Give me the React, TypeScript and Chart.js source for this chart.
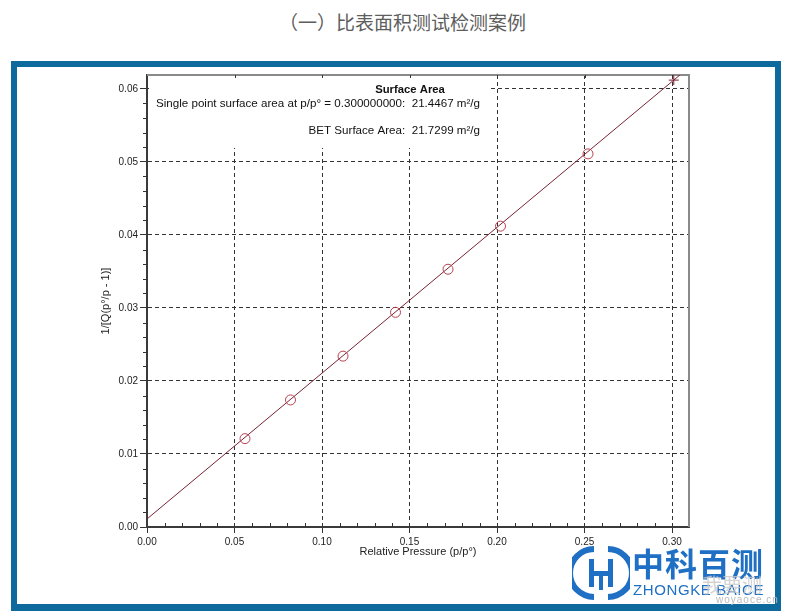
import React, { useEffect, useRef } from "react";
import { Chart, registerables } from "chart.js";

Chart.register(...registerables);

// ---- data ----
const pointX = [0.056, 0.082, 0.112, 0.142, 0.172, 0.202, 0.252];
const pointY = [0.0121, 0.0174, 0.0234, 0.0294, 0.0353, 0.0412, 0.0511];
const singleX = [0.301];
const singleY = [0.0612];
const fitX = [0, 0.32];
const fitY = [0.0011, 0.065];
const xTicks = [0, 0.05, 0.1, 0.15, 0.2, 0.25, 0.3];
const yTicks = [0, 0.01, 0.02, 0.03, 0.04, 0.05, 0.06];
const xMinor = [0.01, 0.02, 0.03, 0.04, 0.06, 0.07, 0.08, 0.09, 0.11, 0.12, 0.13, 0.14, 0.16, 0.17, 0.18, 0.19, 0.21, 0.22, 0.23, 0.24, 0.26, 0.27, 0.28, 0.29];
const yMinor = [0.002, 0.004, 0.006, 0.008, 0.012, 0.014, 0.016, 0.018, 0.022, 0.024, 0.026, 0.028, 0.032, 0.034, 0.036, 0.038, 0.042, 0.044, 0.046, 0.048, 0.052, 0.054, 0.056, 0.058];
const X_MIN = 0, X_MAX = 0.3097, Y_MIN = 0, Y_MAX = 0.0619;

const titleText = "（一）比表面积测试检测案例";
const boxTitle = "Surface Area";
const boxLine1 = "Single point surface area at p/p° = 0.300000000:  21.4467 m²/g";
const boxLine2 = "BET Surface Area:  21.7299 m²/g";
const xTitle = "Relative Pressure (p/p°)";
const yTitle = "1/[Q(p°/p - 1)]";

const FONT = "'Liberation Sans', Arial, sans-serif";

const decor = {
  id: "decor",
  beforeDatasetsDraw(chart: any) {
    const { ctx, chartArea: a, scales } = chart;
    const xs = scales.x, ys = scales.y;
    ctx.save();
    // white text box over the grid
    ctx.fillStyle = "#ffffff";
    ctx.fillRect(a.left + 2, a.top, 342, 73);
    // top & right frame
    ctx.strokeStyle = "#8a8a8a";
    ctx.lineWidth = 2;
    ctx.beginPath();
    ctx.moveTo(a.left, a.top);
    ctx.lineTo(a.right, a.top);
    ctx.lineTo(a.right, a.bottom);
    ctx.stroke();
    // minor ticks
    ctx.strokeStyle = "#333";
    ctx.lineWidth = 1;
    ctx.beginPath();
    xMinor.forEach((v) => {
      const px = Math.round(xs.getPixelForValue(v)) + 0.5;
      ctx.moveTo(px, a.bottom);
      ctx.lineTo(px, a.bottom - 4);
    });
    yMinor.forEach((v) => {
      const py = Math.round(ys.getPixelForValue(v)) + 0.5;
      ctx.moveTo(a.left - 4, py);
      ctx.lineTo(a.left, py);
    });
    xTicks.forEach((v) => {
      if (v === 0) return;
      const px = Math.round(xs.getPixelForValue(v)) + 0.5;
      ctx.moveTo(px, a.top);
      ctx.lineTo(px, a.top + 3);
    });
    ctx.stroke();
    ctx.restore();
  },
  afterDatasetsDraw(chart: any) {
    const { ctx, chartArea: a } = chart;
    ctx.save();
    ctx.fillStyle = "#111";
    ctx.textBaseline = "middle";
    ctx.font = `bold 11.3px ${FONT}`;
    ctx.textAlign = "center";
    ctx.fillText(boxTitle, a.left + 263, a.top + 15);
    ctx.font = `11.6px ${FONT}`;
    ctx.textAlign = "right";
    ctx.fillText(boxLine1, a.left + 333, a.top + 29);
    ctx.fillText(boxLine2, a.left + 333, a.top + 56);
    ctx.restore();
  },
};

export default function App() {
  const ref = useRef<HTMLCanvasElement>(null);
  useEffect(() => {
    if (!ref.current) return;
    const tickFont = { family: FONT, size: 10 };
    const chart = new Chart(ref.current, {
      type: "scatter",
      data: {
        datasets: [
          {
            data: pointX.map((x, i) => ({ x, y: pointY[i] })),
            pointStyle: "circle",
            pointRadius: 5,
            pointBorderWidth: 1,
            pointBorderColor: "#b8414f",
            pointBackgroundColor: "rgba(0,0,0,0)",
            showLine: false,
          },
          {
            data: singleX.map((x, i) => ({ x, y: singleY[i] })),
            pointStyle: "cross",
            pointRadius: 5,
            pointBorderWidth: 1,
            pointBorderColor: "#7a2030",
            showLine: false,
          },
          {
            data: fitX.map((x, i) => ({ x, y: fitY[i] })),
            showLine: true,
            borderColor: "#7a2232",
            borderWidth: 1,
            pointRadius: 0,
          },
        ],
      } as any,
      options: {
        responsive: false,
        animation: false,
        devicePixelRatio: 1,
        layout: { padding: { left: 87, right: 108, top: 75, bottom: 57 } },
        plugins: { legend: { display: false }, tooltip: { enabled: false } },
        scales: {
          x: {
            type: "linear",
            min: X_MIN,
            max: X_MAX,
            afterBuildTicks: (s: any) => {
              s.ticks = xTicks.map((v) => ({ value: v }));
            },
            afterFit: (s: any) => {
              s.height = 32;
            },
            ticks: {
              font: tickFont,
              color: "#222",
              padding: 3,
              maxRotation: 0,
              autoSkip: false,
              callback: (v: any) => Number(v).toFixed(2),
            },
            grid: {
              color: (c: any) => (c.tick && c.tick.value === 0 ? "rgba(0,0,0,0)" : "#333"),
              lineWidth: 1,
              tickLength: 6,
              tickColor: "#333",
              tickBorderDash: [],
            },
            border: { display: true, color: "#3a3a3a", width: 2, dash: [4, 3] },
            title: {
              display: true,
              text: xTitle,
              font: { family: FONT, size: 11 },
              color: "#222",
              padding: { top: 0, bottom: 0 },
            },
          },
          y: {
            type: "linear",
            min: Y_MIN,
            max: Y_MAX,
            afterBuildTicks: (s: any) => {
              s.ticks = yTicks.map((v) => ({ value: v }));
            },
            afterFit: (s: any) => {
              s.width = 60;
            },
            ticks: {
              font: tickFont,
              color: "#222",
              padding: 2,
              autoSkip: false,
              callback: (v: any) => Number(v).toFixed(2),
            },
            grid: {
              color: (c: any) => (c.tick && c.tick.value === 0 ? "rgba(0,0,0,0)" : "#333"),
              lineWidth: 1,
              tickLength: 7,
              tickColor: "#333",
              tickBorderDash: [],
            },
            border: { display: true, color: "#3a3a3a", width: 2, dash: [4, 3] },
            title: {
              display: true,
              text: yTitle,
              font: { family: FONT, size: 11 },
              color: "#222",
              padding: { top: 12, bottom: 0 },
            },
          },
        },
      },
      plugins: [decor],
    } as any);
    return () => chart.destroy();
  }, []);

  return (
    <div style={{ position: "absolute", left: 0, top: 0, width: 797, height: 616, background: "#fff", overflow: "hidden" }}>
      <div
        style={{
          position: "absolute",
          left: 0,
          top: 8,
          width: 805,
          textAlign: "center",
          fontFamily: "'Noto Sans CJK SC', sans-serif",
          fontSize: 19,
          lineHeight: "28px",
          color: "#5d5d5d",
        }}
      >
        {titleText}
      </div>
      <div
        style={{
          position: "absolute",
          left: 11,
          top: 61,
          width: 770,
          height: 550,
          boxSizing: "border-box",
          border: "6px solid #0e6a9d",
          borderBottomWidth: 7,
        }}
      />
      <canvas ref={ref} width={797} height={616} style={{ position: "absolute", left: 0, top: 0 }} />
      {/* logo */}
      <svg style={{ position: "absolute", left: 572, top: 544 }} width={58} height={58} viewBox="0 0 58 58">
        <path d="M 22 5 A 24 24 0 0 0 22 53" fill="none" stroke="#1f6fc4" strokeWidth={6} />
        <path d="M 36 5 A 24 24 0 0 1 36 53" fill="none" stroke="#1f6fc4" strokeWidth={6} />
        <rect x={17} y={15} width={5} height={28} fill="#1f6fc4" />
        <rect x={36} y={15} width={5} height={28} fill="#1f6fc4" />
        <rect x={22} y={27} width={14} height={5} fill="#1f6fc4" />
        <rect x={27} y={32} width={4} height={14} fill="#1f6fc4" />
      </svg>
      <div
        style={{
          position: "absolute",
          left: 632,
          top: 540,
          fontFamily: "'Noto Sans CJK SC', sans-serif",
          fontWeight: 700,
          fontSize: 32,
          lineHeight: "44px",
          letterSpacing: 1,
          color: "#1f6fc4",
          whiteSpace: "nowrap",
        }}
      >
        中科百测
      </div>
      <div
        style={{
          position: "absolute",
          left: 633,
          top: 581,
          fontFamily: "'Liberation Sans', Arial, sans-serif",
          fontSize: 15,
          lineHeight: "17px",
          letterSpacing: 0.6,
          color: "#1f6fc4",
          whiteSpace: "nowrap",
        }}
      >
        ZHONGKE BAICE
      </div>
      <div
        style={{
          position: "absolute",
          left: 702,
          top: 574,
          fontFamily: "'Noto Sans CJK SC', sans-serif",
          fontSize: 20,
          lineHeight: "22px",
          color: "rgba(200,200,200,0.8)",
          whiteSpace: "nowrap",
        }}
      >
        我要测
      </div>
      <div
        style={{
          position: "absolute",
          left: 716,
          top: 594,
          fontFamily: "'Liberation Sans', Arial, sans-serif",
          fontSize: 10,
          lineHeight: "11px",
          letterSpacing: 1,
          color: "#bbbbbb",
          whiteSpace: "nowrap",
        }}
      >
        woyaoce.cn
      </div>
    </div>
  );
}
